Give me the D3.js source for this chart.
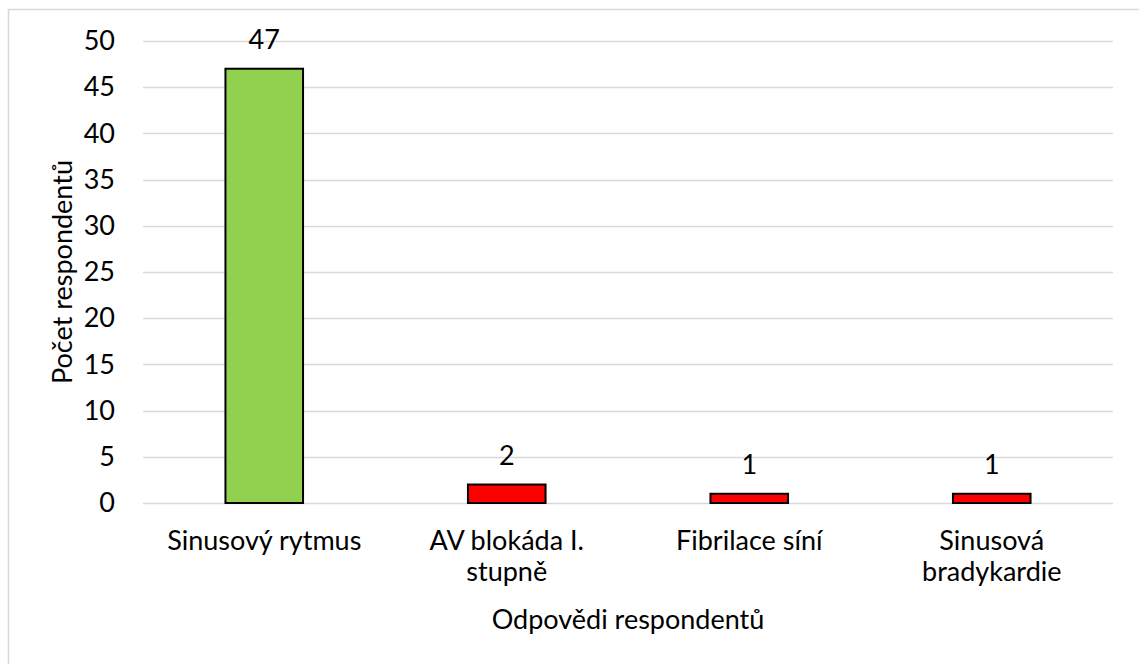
<!DOCTYPE html>
<html>
<head>
<meta charset="utf-8">
<script src="https://cdn.jsdelivr.net/npm/d3@7"></script>
<style>
  body { margin: 0; background: #fff; }
  text { font-family: Lato, "Open Sans", sans-serif; fill: #000; }
</style>
</head>
<body>
<div id="chart"></div>
<script>
// data
var categories = [["Sinusový rytmus"], ["AV blokáda I.", "stupně"], ["Fibrilace síní"], ["Sinusová", "bradykardie"]];
var values = [47, 2, 1, 1];
var barColors = ["#92D050", "#FF0000", "#FF0000", "#FF0000"];
var yTicks = [0, 5, 10, 15, 20, 25, 30, 35, 40, 45, 50];

var W = 1139, H = 664;
var fontSize = 27;
var margin = {top: 41, left: 143, right: 26, bottom: 161};
var width = W - margin.left - margin.right,
    height = H - margin.top - margin.bottom;

var svg = d3.select("#chart").append("svg")
    .attr("width", W)
    .attr("height", H);

// outer chart border
svg.append("rect")
    .attr("x", 8.5).attr("y", 9.5)
    .attr("width", W + 20).attr("height", H + 20)
    .attr("fill", "#fff")
    .attr("stroke", "#d9d9d9")
    .attr("stroke-width", 1.5);

var g = svg.append("g")
    .attr("transform", "translate(" + margin.left + "," + margin.top + ")");

var x = d3.scaleBand()
    .domain(d3.range(values.length))
    .range([0, width])
    .paddingInner(0.68)
    .paddingOuter(0.34);

var y = d3.scaleLinear().domain([0, 50]).range([height, 0]);

// gridlines
g.append("g")
    .selectAll("line")
    .data(yTicks)
    .enter().append("line")
    .attr("x1", 0).attr("x2", width)
    .attr("y1", function(d) { return Math.round(y(d)) + 0.5; })
    .attr("y2", function(d) { return Math.round(y(d)) + 0.5; })
    .attr("stroke", "#d9d9d9")
    .attr("stroke-width", 1.5);

// y axis labels
var yAxis = d3.axisLeft(y).tickValues(yTicks).tickSize(0).tickPadding(28);
g.append("g")
    .call(yAxis)
    .call(function(s) { s.select(".domain").remove(); })
    .selectAll("text")
    .attr("font-size", fontSize)
    .attr("font-family", "Lato, 'Open Sans', sans-serif");

// bars
g.selectAll(".bar")
    .data(values)
    .enter().append("rect")
    .attr("class", "bar")
    .attr("x", function(d, i) { return x(i); })
    .attr("width", x.bandwidth())
    .attr("y", function(d) { return y(d); })
    .attr("height", function(d) { return height - y(d); })
    .attr("fill", function(d, i) { return barColors[i]; })
    .attr("stroke", "#000")
    .attr("stroke-width", 2);

// value labels
g.selectAll(".val")
    .data(values)
    .enter().append("text")
    .attr("class", "val")
    .attr("x", function(d, i) { return x(i) + x.bandwidth() / 2; })
    .attr("y", function(d) { return y(d) - 20; })
    .attr("text-anchor", "middle")
    .attr("font-size", fontSize)
    .text(function(d) { return d; });

// category labels
var cat = g.selectAll(".cat")
    .data(categories)
    .enter().append("text")
    .attr("class", "cat")
    .attr("text-anchor", "middle")
    .attr("font-size", fontSize)
    .attr("transform", function(d, i) {
        return "translate(" + (x(i) + x.bandwidth() / 2) + "," + (height + 47) + ")";
    });
cat.selectAll("tspan")
    .data(function(d) { return d; })
    .enter().append("tspan")
    .attr("x", 0)
    .attr("dy", function(d, i) { return i === 0 ? 0 : 31; })
    .text(function(d) { return d; });

// axis titles
svg.append("text")
    .attr("x", margin.left + width / 2)
    .attr("y", 629)
    .attr("text-anchor", "middle")
    .attr("font-size", fontSize)
    .text("Odpovědi respondentů");

svg.append("text")
    .attr("transform", "translate(72,272) rotate(-90)")
    .attr("text-anchor", "middle")
    .attr("font-size", fontSize)
    .text("Počet respondentů");
</script>
</body>
</html>
